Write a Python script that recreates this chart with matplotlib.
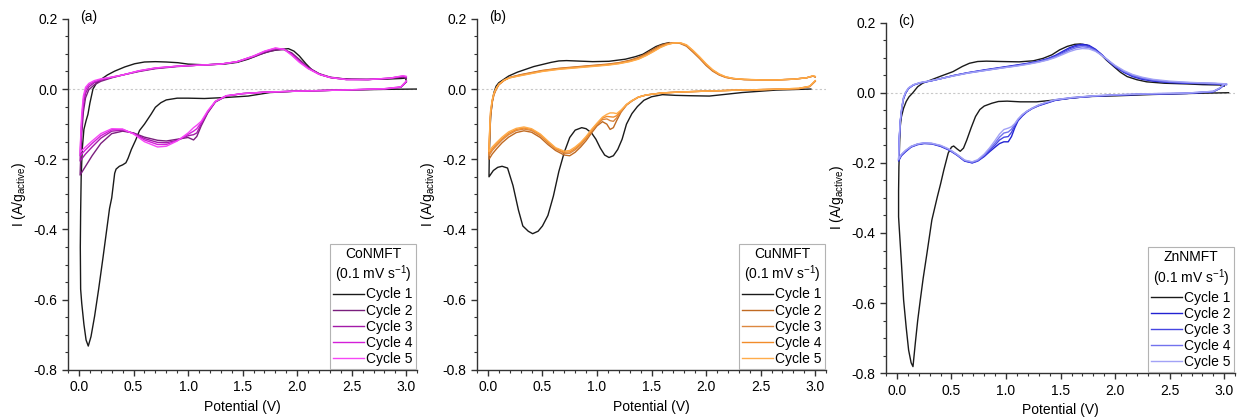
import matplotlib
matplotlib.use("Agg")
import matplotlib.pyplot as plt
from matplotlib.ticker import MultipleLocator

plt.rcParams["font.family"] = ["Liberation Sans", "DejaVu Sans"]
plt.rcParams["axes.unicode_minus"] = False
plt.rcParams["mathtext.default"] = "regular"

# ---------------- (a) CoNMFT ----------------
A_V1 = [3.1, 2.8, 2.4, 2.0, 1.75, 1.55, 1.35, 1.15, 1.0, 0.9,
        0.8, 0.75, 0.7, 0.66, 0.6, 0.555, 0.52, 0.48, 0.45, 0.43,
        0.4, 0.37, 0.34, 0.327, 0.3, 0.28, 0.25, 0.22, 0.18, 0.143,
        0.11, 0.085, 0.065, 0.045, 0.025, 0.015,
        0.012, 0.015, 0.02, 0.03, 0.045, 0.065, 0.082, 0.1, 0.128, 0.16,
        0.204, 0.26, 0.327, 0.42, 0.51, 0.6, 0.7, 0.8, 0.906, 1.0,
        1.15, 1.33, 1.45, 1.55, 1.65, 1.75, 1.85, 1.92, 1.97, 2.02,
        2.08, 2.14, 2.22, 2.33, 2.5, 2.63, 2.8, 2.95, 2.99, 3.0]
A_I1 = [0.0, -0.001, -0.003, -0.006, -0.01, -0.02, -0.024, -0.027, -0.026, -0.026,
        -0.031, -0.039, -0.052, -0.072, -0.1, -0.118, -0.145, -0.172, -0.197, -0.21,
        -0.216, -0.22, -0.228, -0.24, -0.31, -0.34, -0.41, -0.48, -0.57, -0.647,
        -0.705, -0.732, -0.715, -0.67, -0.61, -0.57,
        -0.45, -0.35, -0.25, -0.17, -0.115, -0.09, -0.072, -0.04, 0.0, 0.017,
        0.028, 0.04, 0.051, 0.063, 0.072, 0.077, 0.078, 0.077, 0.075, 0.071,
        0.069, 0.071, 0.076, 0.085, 0.098, 0.108, 0.113, 0.115, 0.108, 0.094,
        0.072, 0.053, 0.04, 0.031, 0.028, 0.0275, 0.028, 0.03, 0.031, 0.025]

A_V = [3.0, 2.95, 2.8, 2.4, 2.0, 1.7, 1.5, 1.35, 1.25, 1.18, 1.12, 1.08, 1.05,
       1.0, 0.9, 0.8, 0.72, 0.6, 0.5, 0.4, 0.3, 0.2, 0.12, 0.06, 0.01,
       0.015, 0.025, 0.04, 0.06, 0.09, 0.14, 0.2, 0.3, 0.4, 0.55, 0.7, 0.9, 1.1,
       1.3, 1.45, 1.6, 1.7, 1.8, 1.88, 1.95, 2.02, 2.1, 2.2, 2.3, 2.45, 2.65,
       2.85, 2.97, 3.0]
A_I2 = [0.02, 0.005, 0.0, -0.003, -0.006, -0.009, -0.013, -0.02, -0.037, -0.068,
        -0.105, -0.135, -0.145, -0.138, -0.143, -0.148, -0.146, -0.137, -0.125,
        -0.12, -0.127, -0.155, -0.19, -0.22, -0.245,
        -0.2, -0.13, -0.065, -0.025, -0.002, 0.012, 0.022, 0.032, 0.04, 0.05,
        0.058, 0.064, 0.068, 0.071, 0.077, 0.091, 0.103, 0.111, 0.112, 0.103,
        0.084, 0.062, 0.044, 0.034, 0.028, 0.027, 0.03, 0.034, 0.03]
A_I3 = [0.021, 0.005, 0.0, -0.003, -0.006, -0.009, -0.013, -0.02, -0.036, -0.066,
        -0.1, -0.125, -0.13, -0.133, -0.146, -0.153, -0.152, -0.141, -0.126,
        -0.117, -0.12, -0.14, -0.165, -0.185, -0.205,
        -0.165, -0.1, -0.045, -0.012, 0.006, 0.018, 0.025, 0.033, 0.04, 0.051,
        0.059, 0.065, 0.068, 0.071, 0.078, 0.093, 0.106, 0.115, 0.113, 0.1,
        0.08, 0.06, 0.043, 0.033, 0.027, 0.027, 0.031, 0.036, 0.033]
A_I4 = [0.022, 0.006, 0.001, -0.003, -0.006, -0.009, -0.013, -0.019, -0.035, -0.064,
        -0.096, -0.113, -0.12, -0.129, -0.147, -0.158, -0.158, -0.145, -0.127,
        -0.115, -0.116, -0.133, -0.155, -0.173, -0.19,
        -0.15, -0.085, -0.03, -0.002, 0.012, 0.021, 0.027, 0.034, 0.04, 0.052,
        0.06, 0.065, 0.068, 0.071, 0.078, 0.094, 0.107, 0.116, 0.113, 0.098,
        0.078, 0.059, 0.042, 0.033, 0.027, 0.027, 0.031, 0.037, 0.035]
A_I5 = [0.023, 0.006, 0.001, -0.003, -0.006, -0.009, -0.013, -0.019, -0.035, -0.062,
        -0.092, -0.103, -0.11, -0.125, -0.148, -0.163, -0.165, -0.15, -0.128,
        -0.114, -0.113, -0.127, -0.148, -0.165, -0.18,
        -0.14, -0.07, -0.02, 0.005, 0.016, 0.024, 0.029, 0.034, 0.04, 0.052,
        0.06, 0.065, 0.068, 0.071, 0.078, 0.094, 0.108, 0.117, 0.113, 0.096,
        0.076, 0.058, 0.042, 0.033, 0.027, 0.027, 0.031, 0.038, 0.036]

# ---------------- (b) CuNMFT ----------------
B_V1 = [2.96, 2.64, 2.33, 2.03, 1.85, 1.72, 1.6, 1.5, 1.43, 1.37,
        1.32, 1.27, 1.23, 1.19, 1.15, 1.11, 1.07, 1.03, 0.99, 0.95,
        0.9, 0.86, 0.8, 0.75, 0.7, 0.65, 0.6, 0.55, 0.5, 0.46,
        0.41, 0.37, 0.32, 0.28, 0.23, 0.18, 0.13, 0.09, 0.05, 0.01,
        0.012, 0.018, 0.025, 0.04, 0.055, 0.075, 0.1, 0.19, 0.27, 0.345,
        0.42, 0.5, 0.58, 0.65, 0.72, 0.8, 0.96, 1.11, 1.26, 1.35,
        1.42, 1.48, 1.54, 1.6, 1.66]
B_I1 = [0.0, -0.003, -0.01, -0.02, -0.019, -0.018, -0.016, -0.022, -0.032, -0.05,
        -0.07, -0.1, -0.143, -0.172, -0.19, -0.195, -0.188, -0.168, -0.143, -0.125,
        -0.113, -0.11, -0.117, -0.138, -0.18, -0.235, -0.305, -0.36, -0.39, -0.405,
        -0.412, -0.405, -0.39, -0.345, -0.275, -0.225, -0.22, -0.223, -0.232, -0.25,
        -0.2, -0.13, -0.077, -0.035, -0.01, 0.008, 0.018, 0.037, 0.048, 0.056,
        0.064, 0.07, 0.076, 0.08, 0.081, 0.08, 0.078, 0.079, 0.085, 0.092,
        0.099, 0.11, 0.121, 0.128, 0.132]

B_V = [3.0, 2.95, 2.85, 2.6, 2.3, 2.0, 1.8, 1.6, 1.45, 1.38,
       1.32, 1.27, 1.22, 1.18, 1.15, 1.12, 1.09, 1.05, 1.0, 0.95,
       0.9, 0.85, 0.8, 0.75, 0.7, 0.62, 0.55, 0.48, 0.4, 0.33,
       0.26, 0.19, 0.13, 0.08, 0.04, 0.01,
       0.012, 0.018, 0.025, 0.04, 0.055, 0.075, 0.1, 0.15, 0.2, 0.3,
       0.4, 0.5, 0.65, 0.8, 0.95, 1.1, 1.2, 1.3, 1.38, 1.45,
       1.52, 1.58, 1.64, 1.7, 1.76, 1.82, 1.88, 1.94, 2.0, 2.06,
       2.12, 2.18, 2.25, 2.35, 2.5, 2.65, 2.8, 2.92, 2.98, 3.0]
B_I2 = [0.022, 0.007, 0.001, -0.001, -0.003, -0.006, -0.008, -0.011, -0.017, -0.023,
        -0.034, -0.046, -0.066, -0.09, -0.11, -0.115, -0.1, -0.093, -0.105, -0.125,
        -0.147, -0.165, -0.18, -0.19, -0.188, -0.175, -0.158, -0.138, -0.123, -0.119,
        -0.124, -0.137, -0.153, -0.17, -0.185, -0.2,
        -0.17, -0.12, -0.075, -0.038, -0.017, -0.002, 0.012, 0.025, 0.033, 0.041,
        0.047, 0.053, 0.059, 0.063, 0.067, 0.071, 0.075, 0.082, 0.09, 0.101,
        0.114, 0.124, 0.13, 0.132, 0.13, 0.122, 0.105, 0.087, 0.067, 0.051,
        0.04, 0.033, 0.029, 0.027, 0.026, 0.026, 0.028, 0.032, 0.037, 0.034]
B_I3 = [0.023, 0.007, 0.001, -0.001, -0.003, -0.006, -0.008, -0.011, -0.017, -0.023,
        -0.034, -0.045, -0.064, -0.082, -0.092, -0.09, -0.085, -0.087, -0.101, -0.12,
        -0.141, -0.159, -0.173, -0.183, -0.183, -0.171, -0.153, -0.133, -0.118, -0.114,
        -0.118, -0.13, -0.145, -0.161, -0.175, -0.19,
        -0.16, -0.11, -0.068, -0.034, -0.015, 0.0, 0.013, 0.025, 0.033, 0.04,
        0.046, 0.052, 0.058, 0.062, 0.066, 0.07, 0.074, 0.08, 0.088, 0.098,
        0.11, 0.121, 0.128, 0.132, 0.131, 0.124, 0.108, 0.089, 0.07, 0.053,
        0.041, 0.034, 0.03, 0.027, 0.026, 0.026, 0.028, 0.032, 0.037, 0.035]
B_I4 = [0.023, 0.008, 0.002, -0.001, -0.003, -0.006, -0.008, -0.011, -0.017, -0.023,
        -0.033, -0.044, -0.062, -0.076, -0.08, -0.079, -0.078, -0.083, -0.099, -0.117,
        -0.138, -0.155, -0.169, -0.179, -0.18, -0.169, -0.15, -0.13, -0.115, -0.111,
        -0.115, -0.126, -0.141, -0.156, -0.17, -0.184,
        -0.155, -0.105, -0.064, -0.032, -0.013, 0.001, 0.013, 0.025, 0.032, 0.039,
        0.045, 0.051, 0.057, 0.061, 0.065, 0.069, 0.073, 0.079, 0.086, 0.096,
        0.108, 0.119, 0.127, 0.131, 0.132, 0.125, 0.109, 0.09, 0.071, 0.054,
        0.042, 0.034, 0.03, 0.027, 0.026, 0.026, 0.028, 0.032, 0.037, 0.035]
B_I5 = [0.024, 0.008, 0.002, -0.001, -0.003, -0.006, -0.008, -0.011, -0.017, -0.023,
        -0.033, -0.044, -0.06, -0.07, -0.068, -0.068, -0.072, -0.08, -0.097, -0.115,
        -0.135, -0.152, -0.165, -0.175, -0.177, -0.167, -0.148, -0.128, -0.113, -0.108,
        -0.112, -0.122, -0.137, -0.152, -0.165, -0.178,
        -0.15, -0.1, -0.06, -0.03, -0.012, 0.002, 0.014, 0.026, 0.032, 0.038,
        0.044, 0.05, 0.056, 0.06, 0.064, 0.068, 0.072, 0.078, 0.085, 0.095,
        0.107, 0.118, 0.126, 0.131, 0.132, 0.126, 0.11, 0.092, 0.072, 0.055,
        0.043, 0.035, 0.03, 0.028, 0.026, 0.026, 0.028, 0.032, 0.038, 0.036]

# ---------------- (c) ZnNMFT ----------------
C_V1 = [3.04, 2.7, 2.35, 2.0, 1.74, 1.55, 1.44, 1.28, 1.13, 1.01,
        0.93, 0.87, 0.8, 0.76, 0.72, 0.68, 0.64, 0.61, 0.58, 0.55,
        0.52, 0.5, 0.47, 0.43, 0.4, 0.37, 0.32, 0.275, 0.24, 0.214,
        0.19, 0.168, 0.147, 0.13, 0.107, 0.085, 0.061, 0.04, 0.02, 0.015,
        0.015, 0.018, 0.025, 0.03, 0.04, 0.06, 0.085, 0.11, 0.146, 0.19,
        0.235, 0.3, 0.4, 0.513, 0.6, 0.665, 0.74, 0.82, 0.95, 1.12,
        1.25, 1.34, 1.42, 1.49, 1.56, 1.63, 1.68, 1.74, 1.8, 1.86,
        1.92, 1.99, 2.05, 2.11, 2.2, 2.29, 2.45, 2.66, 2.8, 2.96, 3.0]
C_I1 = [0.0, -0.002, -0.005, -0.009, -0.011, -0.017, -0.021, -0.026, -0.026, -0.024,
        -0.025, -0.03, -0.038, -0.048, -0.068, -0.1, -0.135, -0.158, -0.167, -0.16,
        -0.152, -0.155, -0.172, -0.22, -0.26, -0.297, -0.363, -0.458, -0.53, -0.591,
        -0.65, -0.715, -0.781, -0.77, -0.734, -0.67, -0.591, -0.48, -0.38, -0.354,
        -0.28, -0.211, -0.14, -0.097, -0.07, -0.045, -0.025, -0.012, 0.0, 0.017,
        0.027, 0.035, 0.047, 0.06, 0.075, 0.084, 0.089, 0.09, 0.089, 0.088,
        0.091, 0.098, 0.108, 0.122, 0.132, 0.138, 0.139, 0.136, 0.125, 0.112,
        0.093, 0.074, 0.058, 0.046, 0.037, 0.031, 0.027, 0.025, 0.023, 0.022, 0.019]

C_V = [3.0, 2.96, 2.9, 2.66, 2.3, 2.0, 1.8, 1.6, 1.45, 1.37,
       1.3, 1.24, 1.19, 1.15, 1.11, 1.08, 1.05, 1.02, 0.98, 0.94,
       0.9, 0.85, 0.8, 0.74, 0.69, 0.62, 0.55, 0.48, 0.4, 0.32,
       0.25, 0.19, 0.13, 0.08, 0.04, 0.015,
       0.018, 0.022, 0.03, 0.045, 0.06, 0.08, 0.107, 0.15, 0.21, 0.3,
       0.4, 0.52, 0.65, 0.8, 0.95, 1.1, 1.2, 1.3, 1.38, 1.45,
       1.52, 1.58, 1.64, 1.7, 1.76, 1.82, 1.88, 1.94, 2.0, 2.08,
       2.16, 2.25, 2.35, 2.5, 2.65, 2.8, 2.92, 2.98, 3.02]
C_I2 = [0.022, 0.012, 0.003, -0.002, -0.004, -0.007, -0.01, -0.015, -0.022, -0.03,
        -0.037, -0.045, -0.055, -0.066, -0.08, -0.1, -0.125, -0.14, -0.14, -0.145,
        -0.155, -0.168, -0.182, -0.195, -0.2, -0.195, -0.178, -0.164, -0.153, -0.146,
        -0.145, -0.148, -0.155, -0.168, -0.18, -0.195,
        -0.17, -0.13, -0.085, -0.045, -0.018, -0.001, 0.012, 0.022, 0.028, 0.033,
        0.04, 0.049, 0.057, 0.065, 0.072, 0.079, 0.084, 0.09, 0.097, 0.106,
        0.118, 0.128, 0.135, 0.138, 0.135, 0.124, 0.108, 0.09, 0.074, 0.058,
        0.046, 0.038, 0.033, 0.029, 0.027, 0.026, 0.025, 0.024, 0.023]
C_I3 = [0.023, 0.013, 0.003, -0.002, -0.004, -0.007, -0.01, -0.015, -0.021, -0.029,
        -0.036, -0.045, -0.054, -0.064, -0.078, -0.094, -0.113, -0.125, -0.127, -0.135,
        -0.149, -0.164, -0.18, -0.194, -0.2, -0.194, -0.177, -0.163, -0.152, -0.145,
        -0.144, -0.147, -0.154, -0.166, -0.178, -0.193,
        -0.168, -0.128, -0.083, -0.043, -0.016, 0.0, 0.013, 0.022, 0.028, 0.033,
        0.04, 0.049, 0.057, 0.064, 0.071, 0.078, 0.083, 0.089, 0.096, 0.104,
        0.115, 0.125, 0.132, 0.135, 0.132, 0.122, 0.107, 0.09, 0.075, 0.06,
        0.048, 0.04, 0.035, 0.03, 0.028, 0.027, 0.026, 0.025, 0.024]
C_I4 = [0.024, 0.013, 0.004, -0.001, -0.003, -0.006, -0.009, -0.014, -0.02, -0.028,
        -0.035, -0.044, -0.053, -0.063, -0.076, -0.09, -0.104, -0.112, -0.115, -0.127,
        -0.143, -0.161, -0.178, -0.193, -0.198, -0.193, -0.176, -0.162, -0.151, -0.145,
        -0.143, -0.146, -0.153, -0.165, -0.177, -0.191,
        -0.166, -0.126, -0.082, -0.042, -0.015, 0.001, 0.013, 0.022, 0.028, 0.033,
        0.04, 0.048, 0.056, 0.063, 0.07, 0.077, 0.082, 0.088, 0.094, 0.102,
        0.112, 0.121, 0.128, 0.131, 0.129, 0.12, 0.106, 0.091, 0.076, 0.061,
        0.05, 0.042, 0.036, 0.031, 0.029, 0.027, 0.026, 0.025, 0.024]
C_I5 = [0.025, 0.014, 0.004, -0.001, -0.003, -0.006, -0.009, -0.014, -0.02, -0.027,
        -0.035, -0.044, -0.053, -0.062, -0.075, -0.088, -0.097, -0.101, -0.105, -0.118,
        -0.136, -0.157, -0.175, -0.191, -0.197, -0.192, -0.176, -0.161, -0.15, -0.144,
        -0.143, -0.146, -0.153, -0.164, -0.176, -0.19,
        -0.165, -0.125, -0.08, -0.04, -0.014, 0.002, 0.014, 0.023, 0.029, 0.034,
        0.04, 0.048, 0.056, 0.063, 0.07, 0.076, 0.081, 0.087, 0.093, 0.1,
        0.109, 0.117, 0.123, 0.126, 0.125, 0.118, 0.106, 0.092, 0.078, 0.063,
        0.052, 0.044, 0.038, 0.033, 0.03, 0.028, 0.027, 0.026, 0.025]

CYCLES = ["Cycle 1", "Cycle 2", "Cycle 3", "Cycle 4", "Cycle 5"]
COLORS_A = ["#1a1a1a", "#7a1f7d", "#a31aa8", "#d41fd9", "#f646f6"]
COLORS_B = ["#1a1a1a", "#c06a22", "#dc8840", "#f28c2a", "#ffac4a"]
COLORS_C = ["#1a1a1a", "#2222d2", "#4646e2", "#7272ee", "#a2a2f6"]


def draw_panel(ax, v1, i1, v, currents, colors, name, tag):
    ax.axhline(0, color="#c8c8c8", lw=0.8, ls=(0, (2, 2)), zorder=0)
    ax.plot(v1, i1, color=colors[0], lw=1.0, label=CYCLES[0])
    for k, cur in enumerate(currents):
        ax.plot(v, cur, color=colors[k + 1], lw=1.0, label=CYCLES[k + 1])
    ax.set_xlim(-0.1, 3.1)
    ax.set_ylim(-0.8, 0.2)
    ax.xaxis.set_major_locator(MultipleLocator(0.5))
    ax.xaxis.set_minor_locator(MultipleLocator(0.1))
    ax.yaxis.set_major_locator(MultipleLocator(0.2))
    ax.yaxis.set_minor_locator(MultipleLocator(0.05))
    ax.xaxis.set_major_formatter(matplotlib.ticker.FormatStrFormatter("%.1f"))
    ax.yaxis.set_major_formatter(matplotlib.ticker.FormatStrFormatter("%.1f"))
    for s in ["top", "right"]:
        ax.spines[s].set_visible(False)
    for s in ["left", "bottom"]:
        ax.spines[s].set_color("#333333")
        ax.spines[s].set_linewidth(1.0)
    ax.tick_params(which="major", direction="out", length=4, width=1.0,
                   labelsize=10, colors="#333333", labelcolor="black")
    ax.tick_params(which="minor", direction="out", length=2.2, width=0.8,
                   colors="#333333")
    ax.set_xlabel("Potential (V)", fontsize=10, labelpad=4)
    ax.set_ylabel("I (A/g$_{active}$)", fontsize=10, labelpad=4)
    ax.text(0.035, 1.025, tag, transform=ax.transAxes, fontsize=10,
            va="top", ha="left")
    leg = ax.legend(loc="lower right", fontsize=10,
                    title=name + "\n(0.1 mV s$^{-1}$)", title_fontsize=10,
                    frameon=True, fancybox=False, edgecolor="#a0a0a0",
                    borderaxespad=0.1, handlelength=2.2, handletextpad=0.2,
                    labelspacing=0.15, borderpad=0.2)
    leg.get_frame().set_linewidth(0.8)
    leg.get_title().set_multialignment("center")


fig = plt.figure(figsize=(12.38, 4.18), dpi=100)
ax_a = fig.add_axes([0.055, 0.115, 0.282, 0.84])
ax_b = fig.add_axes([0.3853, 0.115, 0.282, 0.84])
ax_c = fig.add_axes([0.7157, 0.107, 0.282, 0.839])

draw_panel(ax_a, A_V1, A_I1, A_V, [A_I2, A_I3, A_I4, A_I5], COLORS_A, "CoNMFT", "(a)")
draw_panel(ax_b, B_V1, B_I1, B_V, [B_I2, B_I3, B_I4, B_I5], COLORS_B, "CuNMFT", "(b)")
draw_panel(ax_c, C_V1, C_I1, C_V, [C_I2, C_I3, C_I4, C_I5], COLORS_C, "ZnNMFT", "(c)")

fig.savefig("out.png", dpi=100)
